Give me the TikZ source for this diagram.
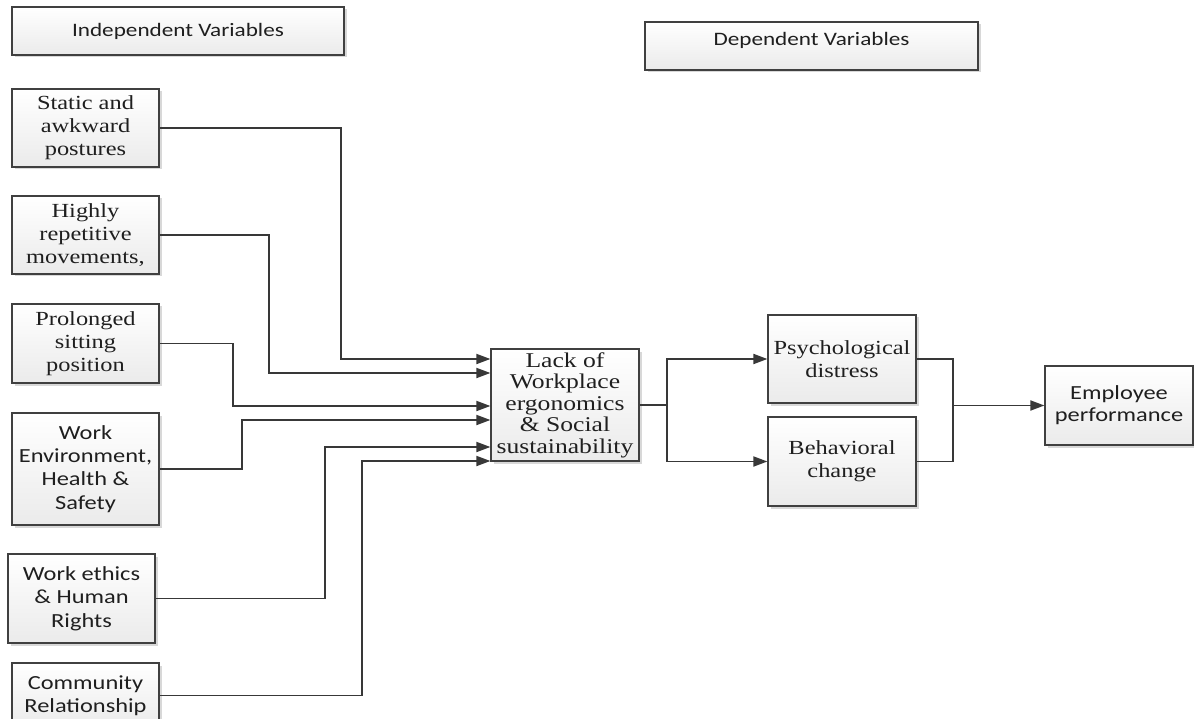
\documentclass[tikz,border=0pt]{standalone}
\usepackage{fontspec}
\setmainfont{Liberation Serif}[FakeStretch=1.22]
\newfontfamily\diagsans{Carlito}[FakeStretch=1.22]
\usetikzlibrary{arrows.meta,shadows}
\begin{document}
\begin{tikzpicture}[x=1pt,y=-1pt,
 box/.style={draw=black!75, line width=1.2pt, top color=white, bottom color=black!8,
   drop shadow={shadow xshift=2.5pt, shadow yshift=-2.5pt, fill=black!30, opacity=0.5},
   inner sep=0pt, align=center, text=black!88, minimum width=147pt},
 serif/.style={font=\fontsize{20}{23}\selectfont},
 sans/.style={font=\diagsans\fontsize{20}{23.3}\selectfont},
 head/.style={font=\diagsans\fontsize{19}{22}\selectfont},
 conn/.style={draw=black!78, line width=1.8pt, -{Triangle[length=14pt,width=10pt]}},
 link/.style={draw=black!78, line width=1.8pt}]
\useasboundingbox (0,0) rectangle (1194,719);
\clip (0,0) rectangle (1194,719);

% headers
\node[box,head,minimum width=332pt,minimum height=48pt] (indep) at (178,31) {Independent Variables};
\node[box,head,minimum width=333pt,minimum height=48pt,text height=13pt,text depth=14pt] (dep) at (811.5,46) {Dependent Variables};

% independent variables
\node[box,serif,minimum height=78pt] (static) at (85.5,128) {Static and\\awkward\\postures};
\node[box,serif,minimum height=78pt] (highly) at (85.5,235) {Highly\\repetitive\\movements,};
\node[box,serif,minimum height=79pt] (prolonged) at (85.5,343.5) {Prolonged\\sitting\\position};
\node[box,sans,minimum height=112pt] (workenv) at (85.5,469) {Work\\Environment,\\Health \&\\Safety};
\node[box,sans,minimum height=89pt] (ethics) at (81.5,598.5) {Work ethics\\\& Human\\Rights};
\node[box,sans,minimum height=65pt] (community) at (85.5,695.5) {Community\\Relationship};

% mediator
\node[box,font=\fontsize{21}{21.5}\selectfont,minimum width=148pt,minimum height=112pt] (lack) at (565,405) {Lack of\\Workplace\\ergonomics\\\& Social\\sustainability};

% dependent
\node[box,serif,minimum width=148pt,minimum height=88pt] (psych) at (842,359) {Psychological\\distress};
\node[box,serif,minimum width=148pt,minimum height=89pt] (behav) at (842,461.5) {Behavioral\\change};
\node[box,font=\diagsans\fontsize{20}{21.7}\selectfont,minimum width=148pt,minimum height=79pt] (emp) at (1119,405.5) {Employee\\performance};

% connectors into mediator
\draw[conn] (static.east) -| (341,359) -- (lack.west |- 341,359);
\draw[conn] (highly.east) -| (269,373) -- (lack.west |- 269,373);
\draw[conn] (prolonged.east) -| (233,406) -- (lack.west |- 233,406);
\draw[conn] (workenv.east) -| (242,420) -- (lack.west |- 242,420);
\draw[conn] (ethics.east) -| (325,447) -- (lack.west |- 325,447);
\draw[conn] (community.east) -| (362,461) -- (lack.west |- 362,461);

% mediator to dependents
\draw[link] (lack.east) -- (667,405);
\draw[conn] (667,405) |- (psych.west);
\draw[conn] (667,405) |- (behav.west);

% dependents to performance
\draw[link] (psych.east) -| (953,405.5);
\draw[link] (behav.east) -| (953,405.5);
\draw[conn] (953,405.5) -- (emp.west);
\end{tikzpicture}
\end{document}
